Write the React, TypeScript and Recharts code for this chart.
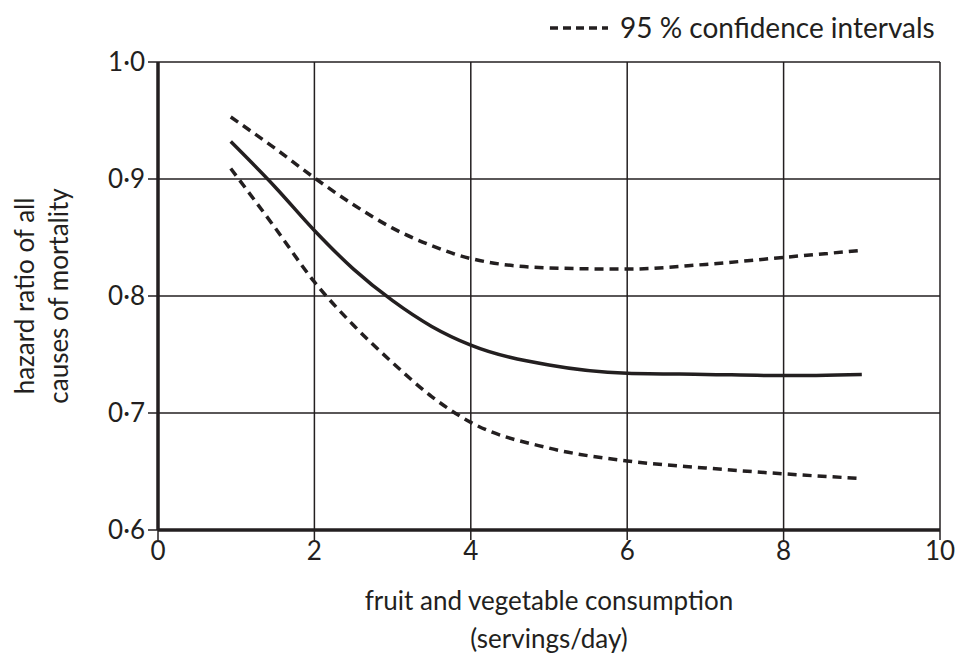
import React from 'react';
import { LineChart, Line, XAxis, YAxis, CartesianGrid, Label } from 'recharts';

const servings = [0.93, 1.5, 2, 2.5, 3, 3.5, 4, 5, 6, 7, 8, 9];
const hazard = [0.932, 0.893, 0.856, 0.823, 0.796, 0.774, 0.758, 0.741, 0.734, 0.733, 0.732, 0.733];
const upperCI = [0.953, 0.926, 0.901, 0.878, 0.858, 0.843, 0.832, 0.824, 0.823, 0.827, 0.833, 0.839];
const lowerCI = [0.909, 0.858, 0.812, 0.775, 0.743, 0.714, 0.692, 0.670, 0.659, 0.653, 0.648, 0.644];

const xTicks = [0, 2, 4, 6, 8, 10];
const yTicks = [0.6, 0.7, 0.8, 0.9, 1.0];

const data = servings.map((x, i) => ({ x, hr: hazard[i], upper: upperCI[i], lower: lowerCI[i] }));

const FONT = 'Lato, sans-serif';
const INK = '#231f20';
const FS = 26;

const XTitle = (props: any) => {
  const vb = props.viewBox;
  const cx = vb.x + vb.width / 2;
  return (
    <text fontFamily={FONT} fontSize={FS} fill={INK} textAnchor="middle">
      <tspan x={cx} y={610}>fruit and vegetable consumption</tspan>
      <tspan x={cx} y={648}>(servings/day)</tspan>
    </text>
  );
};

const YTitle = (props: any) => {
  const vb = props.viewBox;
  const cy = vb.y + vb.height / 2;
  return (
    <g fontFamily={FONT} fontSize={FS} fill={INK}>
      <text transform={`translate(34,${cy}) rotate(-90)`} textAnchor="middle">hazard ratio of all</text>
      <text transform={`translate(68,${cy}) rotate(-90)`} textAnchor="middle">causes of mortality</text>
    </g>
  );
};

const fmt = (v: number) => (v === 0 ? '0' : v.toFixed(1).replace('.', '·'));

export default function App() {
  return (
    <div style={{ position: 'absolute', left: 0, top: 0, width: 962, height: 660, background: '#fff' }}>
      <svg width={420} height={50} style={{ position: 'absolute', left: 542, top: 0 }}>
        <line x1={8} y1={28} x2={66} y2={28} stroke={INK} strokeWidth={3.5} strokeDasharray="8 5" />
        <text x={78} y={38} fontFamily={FONT} fontSize={28} fill={INK}>95 % confidence intervals</text>
      </svg>
      <LineChart width={962} height={660} data={data} margin={{ top: 62, right: 22, left: 98, bottom: 100 }}>
        <CartesianGrid stroke={INK} strokeWidth={1.5} horizontalValues={yTicks} verticalValues={xTicks} />
        <XAxis
          type="number"
          dataKey="x"
          domain={[0, 10]}
          ticks={xTicks}
          height={30}
          axisLine={{ stroke: INK, strokeWidth: 3.5 }}
          tickLine={{ stroke: INK, strokeWidth: 1.5 }}
          tickSize={10}
          tick={{ fill: INK, fontSize: FS, fontFamily: FONT }}
          tickMargin={2}
        >
          <Label content={XTitle} />
        </XAxis>
        <YAxis
          type="number"
          domain={[0.6, 1.0]}
          ticks={yTicks}
          width={60}
          axisLine={{ stroke: INK, strokeWidth: 3.5 }}
          tickLine={{ stroke: INK, strokeWidth: 1.5 }}
          tickSize={10}
          tick={{ fill: INK, fontSize: FS, fontFamily: FONT }}
          tickFormatter={fmt}
          tickMargin={3}
        >
          <Label content={YTitle} />
        </YAxis>
        <Line type="monotone" dataKey="upper" stroke={INK} strokeWidth={3.5} strokeDasharray="9 6" dot={false} isAnimationActive={false} />
        <Line type="monotone" dataKey="hr" stroke={INK} strokeWidth={3.5} dot={false} isAnimationActive={false} />
        <Line type="monotone" dataKey="lower" stroke={INK} strokeWidth={3.5} strokeDasharray="9 6" dot={false} isAnimationActive={false} />
      </LineChart>
    </div>
  );
}
